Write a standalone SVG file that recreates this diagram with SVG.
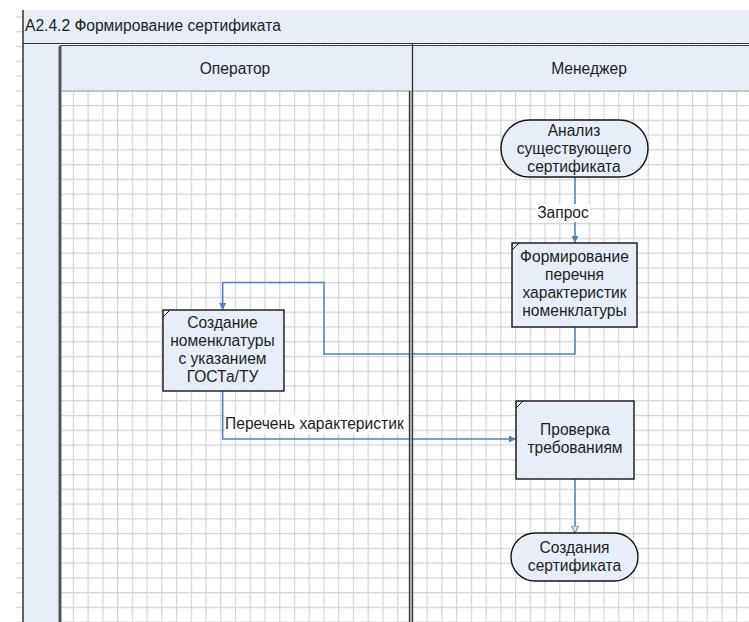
<svg xmlns="http://www.w3.org/2000/svg" width="749" height="622" viewBox="0 0 749 622">
<style>
text{font-family:"Liberation Sans",Arial,sans-serif;font-size:15.6px;fill:#1e1e1e}
.c{text-anchor:middle}
.band{fill:#e7eef8}
.node{fill:#e7eef8;stroke:#141414;stroke-width:1.4}
.corner{stroke:#141414;stroke-width:1}
.conn{fill:none;stroke:#4f81bd;stroke-width:1.5}
.lbg{fill:#ffffff}
</style>
<defs>
<pattern id="grid" patternUnits="userSpaceOnUse" x="72.8" y="90.2" width="14.74" height="14.76">
<path d="M0.5 0 V14.76 M0 0.5 H14.74" stroke="#d4d4d4" stroke-width="1.4" fill="none"/>
</pattern>
<marker id="arr" markerUnits="userSpaceOnUse" markerWidth="8" markerHeight="8" refX="7" refY="3.5" orient="auto">
<path d="M0 0 L7 3.5 L0 7 z" fill="#4f81bd"/>
</marker>
<marker id="arrh" markerUnits="userSpaceOnUse" markerWidth="10" markerHeight="10" refX="7.5" refY="4" orient="auto">
<path d="M0.5 0.5 L7.5 4 L0.5 7.5 z" fill="#dfe8f5" stroke="#4f81bd" stroke-width="1"/>
</marker>
</defs>
<rect width="749" height="622" fill="#ffffff"/>
<rect x="16" y="10" width="733" height="612" fill="url(#grid)"/>
<g id="pool">
<rect class="band" x="23" y="10" width="726" height="34"/>
<text x="25" y="31">A2.4.2 Формирование сертификата</text>
<rect class="band" x="23" y="44" width="37" height="578"/>
<rect class="band" x="61" y="45" width="688" height="46"/>
<line x1="23" y1="10" x2="23" y2="622" stroke="#333" stroke-width="1.5"/>
<line x1="23" y1="43.5" x2="749" y2="43.5" stroke="#333" stroke-width="1.2"/>
<line x1="60" y1="45.5" x2="749" y2="45.5" stroke="#444" stroke-width="1"/>
<line x1="60" y1="46" x2="60" y2="622" stroke="#555" stroke-width="3"/>
<line x1="61" y1="91" x2="749" y2="91" stroke="#9a9a9a" stroke-width="1"/>
</g>
<g id="lane-operator">
<text class="c" x="235" y="74">Оператор</text>
</g>
<g id="lane-manager">
<text class="c" x="589" y="74">Менеджер</text>
</g>
<g id="connectors">
<path class="conn" d="M575 177 V243" marker-end="url(#arr)"/>
<rect class="lbg" x="536" y="204" width="54" height="18"/>
<text class="c" x="563" y="218">Запрос</text>
<path class="conn" d="M575 327 V354 H324 V282.5 H222.7 V310" marker-end="url(#arr)"/>
<path class="conn" d="M222.7 391 V439 H516" marker-end="url(#arr)"/>
<rect class="lbg" x="224" y="415" width="184" height="18"/>
<text x="225" y="428.5">Перечень характеристик</text>
<path class="conn" d="M575 479 V533" marker-end="url(#arrh)"/>
</g>
<g id="lane-divider">
<line x1="412.5" y1="44" x2="412.5" y2="622" stroke="#333" stroke-width="1.3"/>
<line x1="409.5" y1="91" x2="409.5" y2="622" stroke="#333" stroke-width="1.3"/>
<line x1="411" y1="91" x2="411" y2="622" stroke="#9a9a9a" stroke-width="1.4"/>
</g>
<g id="n-analiz">
<rect class="node" x="501" y="120" width="147" height="57" rx="28.5"/>
<text class="c" x="574" y="136">Анализ</text>
<text class="c" x="574" y="154">существующего</text>
<text class="c" x="574" y="172">сертификата</text>
</g>
<g id="n-formirovanie">
<rect class="node" x="512" y="243" width="125" height="84"/>
<line class="corner" x1="512" y1="250" x2="519" y2="243"/>
<text class="c" x="574.5" y="262">Формирование</text>
<text class="c" x="574.5" y="280">перечня</text>
<text class="c" x="574.5" y="298">характеристик</text>
<text class="c" x="574.5" y="316">номенклатуры</text>
</g>
<g id="n-sozdanie">
<rect class="node" x="163" y="310" width="121" height="81"/>
<line class="corner" x1="163" y1="317" x2="170" y2="310"/>
<text class="c" x="222.5" y="328">Создание</text>
<text class="c" x="222.5" y="346">номенклатуры</text>
<text class="c" x="222.5" y="364">с указанием</text>
<text class="c" x="222.5" y="382">ГОСТа/ТУ</text>
</g>
<g id="n-proverka">
<rect class="node" x="516" y="401" width="118" height="78"/>
<line class="corner" x1="516" y1="408" x2="523" y2="401"/>
<text class="c" x="575" y="435">Проверка</text>
<text class="c" x="575" y="453">требованиям</text>
</g>
<g id="n-sozdaniya">
<rect class="node" x="511" y="533" width="127" height="48" rx="24"/>
<text class="c" x="574.5" y="553">Создания</text>
<text class="c" x="574.5" y="571">сертификата</text>
</g>
</svg>
